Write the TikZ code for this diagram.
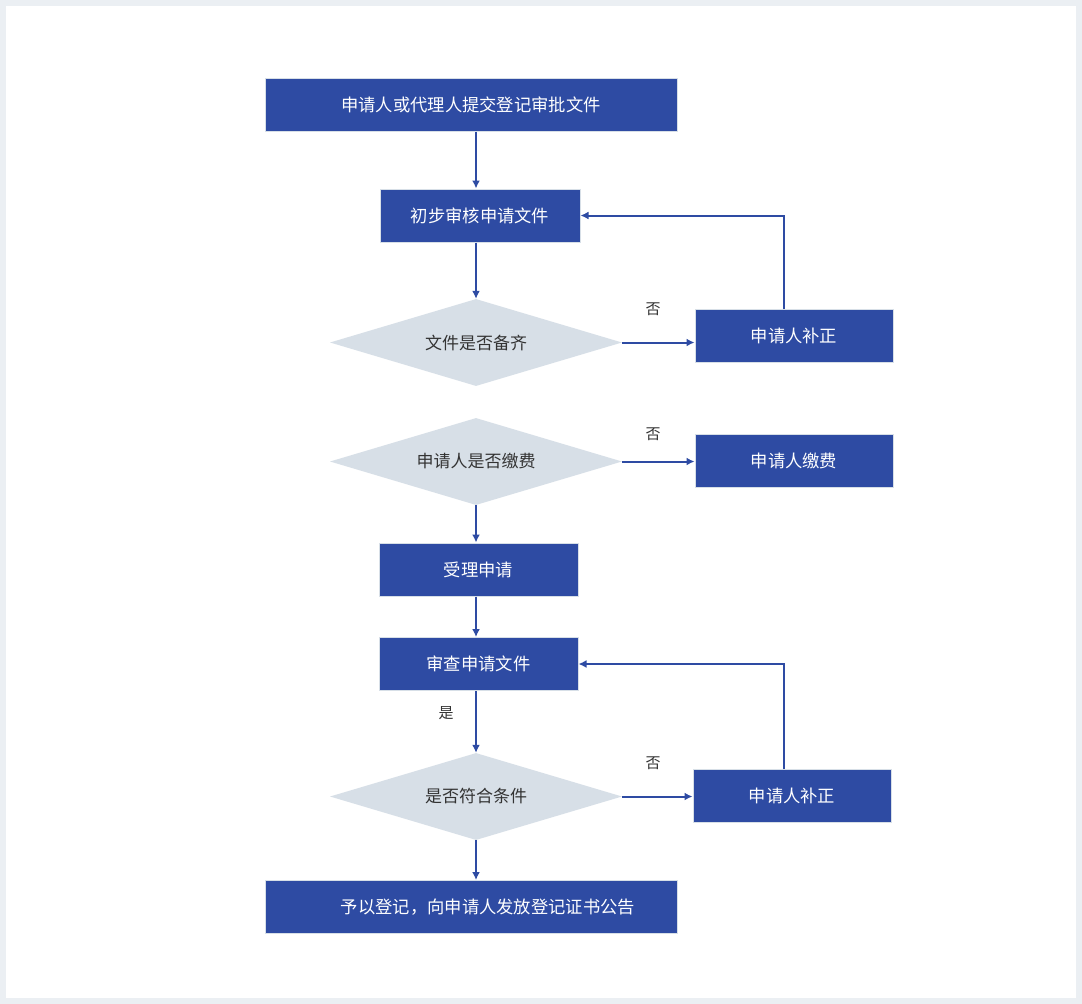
\documentclass[tikz,border=0pt]{standalone}
\usepackage{fontspec}
\setmainfont{Noto Sans CJK SC}
\usepackage{tikz}
\usetikzlibrary{arrows.meta, shapes, positioning}
\definecolor{stepblue}{RGB}{46,75,163}
\definecolor{checkgray}{RGB}{215,223,231}
\definecolor{pagegray}{RGB}{235,239,243}
\definecolor{labelgray}{RGB}{51,51,51}
\tikzstyle{process} = [rectangle, fill=stepblue, draw=checkgray, line width=1pt, text=white, inner sep=0pt,
                       minimum width=199pt, minimum height=53pt, font=\fontsize{17.3}{19}\selectfont]
\tikzstyle{check} = [diamond, aspect=3.36, fill=checkgray, inner sep=0pt, minimum width=292pt, minimum height=87pt,
                     text=labelgray, font=\fontsize{17}{19}\selectfont]
\tikzstyle{answer} = [text=labelgray, font=\fontsize{15}{16}\selectfont]
\tikzstyle{flow} = [draw=stepblue, line width=2pt, -{Latex[length=8pt, width=8pt]}]

\begin{document}
\begin{tikzpicture}[x=1pt, y=-1pt]
				\fill [pagegray] (0, 0) rectangle (1082, 1004);
				\fill [white] (6, 6) rectangle (1076, 998);

				\coordinate (Spine) at (476, 0);

				\node (Submit) [process, minimum width=412pt] at (471, 104.5) {申请人或代理人提交登记审批文件};
				\node (PreCheck) [process, minimum width=200pt] at (480, 215.5) {初步审核申请文件};
				\draw [flow] (Submit.south -| Spine) -- (PreCheck.north -| Spine);

				% documents complete?
				\node (Complete) [check] at (476, 342.5) {文件是否备齐};
				\draw [flow] (PreCheck.south -| Spine) -- (Complete.north);

				\node (Amend) [process, minimum width=198pt] at (794, 336) {申请人补正};
				\draw [flow] (Complete.east) -- (Amend.west |- Complete.east);
				\node (NoComplete) [answer] at (653, 309) {否};

				\coordinate (AmendLoop) at (784, 0);
				\draw [flow] (Amend.north -| AmendLoop) -- (AmendLoop |- PreCheck.east) -- (PreCheck.east);

				% fee paid?
				\node (Paid) [check] at (476, 461.5) {申请人是否缴费};
				\node (Pay) [process, minimum width=198pt] at (794, 461) {申请人缴费};
				\draw [flow] (Paid.east) -- (Pay.west |- Paid.east);
				\node (NoPaid) [answer] at (653, 434) {否};

				\node (Accept) [process] at (478.5, 569.5) {受理申请};
				\draw [flow] (Paid.south) -- (Accept.north -| Spine);

				\node (Review) [process] at (478.5, 664) {审查申请文件};
				\draw [flow] (Accept.south -| Spine) -- (Review.north -| Spine);

				% conditions met?
				\node (Qualified) [check] at (476, 796.5) {是否符合条件};
				\draw [flow] (Review.south -| Spine) -- (Qualified.north);
				\node (YesQualified) [answer] at (446, 713) {是};

				\node (AmendAgain) [process, minimum width=198pt] at (792, 796) {申请人补正};
				\draw [flow] (Qualified.east) -- (AmendAgain.west |- Qualified.east);
				\node (NoQualified) [answer] at (653, 763) {否};

				\coordinate (AgainLoop) at (784, 0);
				\draw [flow] (AmendAgain.north -| AgainLoop) -- (AgainLoop |- Review.east) -- (Review.east);

				% registration
				\node (Register) [process, minimum width=412pt] at (471, 907) {\hspace*{34pt}予以登记，向申请人发放登记证书公告};
				\draw [flow] (Qualified.south) -- (Register.north -| Spine);
			\end{tikzpicture}
\end{document}
